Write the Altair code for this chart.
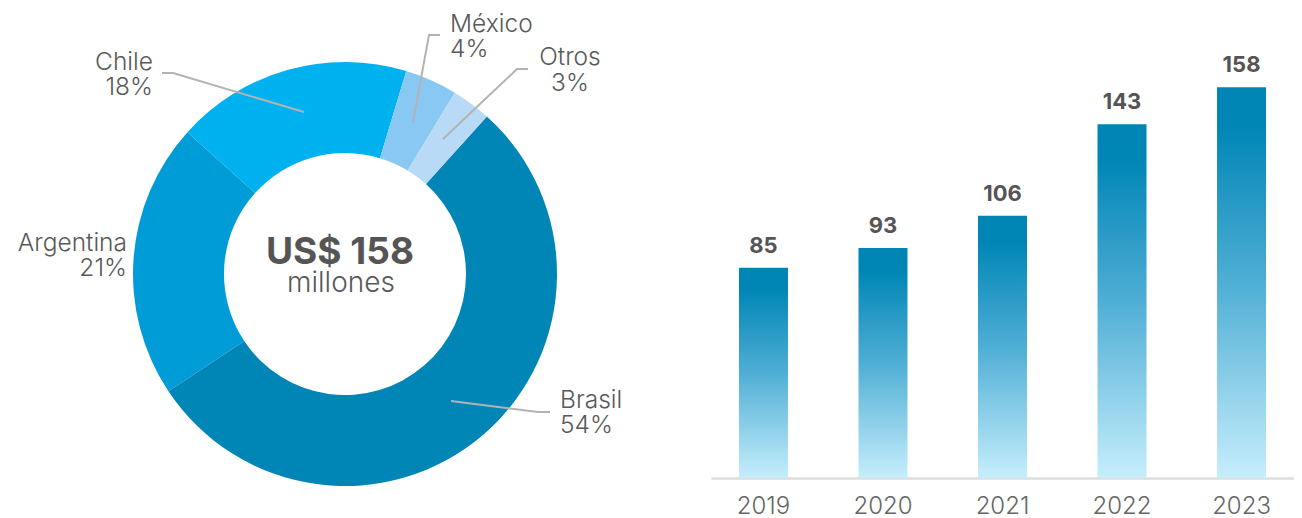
import math
import altair as alt
import pandas as pd

# ---------------- data ----------------
countries = ["Brasil", "Argentina", "Chile", "México", "Otros"]
shares = [54, 21, 18, 4, 3]
country_colors = ["#0085B7", "#009CD7", "#00B1F0", "#89C8F3", "#B9DAF6"]

years = ["2019", "2020", "2021", "2022", "2023"]
totals = [85, 93, 106, 143, 158]

center_title = "US$ 158"
center_sub = "millones"

FONT = "Inter"
TEXT = "#595959"

# ---------------- layout helpers (panel pixel space) ----------------
PW, PH = 690, 500
START = math.radians(42)

donut_df = pd.DataFrame({
    "country": countries,
    "share": shares,
    "order": list(range(len(countries))),
})

# label anchors: (name, pct, x, y_name, y_pct, align)
label_rows = [
    ("Chile", "18%", 145, 62, 87, "right"),
    ("Argentina", "21%", 119, 243, 268, "right"),
    ("México", "4%", 442, 24, 49, "left"),
    ("Otros", "3%", 562, 57, 83, "center"),
    ("Brasil", "54%", 552, 400, 425, "left"),
]
lab = []
for n, p, x, y1, y2, a in label_rows:
    lab.append({"t": n, "x": x, "y": y1, "a": a})
    lab.append({"t": p, "x": x, "y": y2, "a": a})
lab_df = pd.DataFrame(lab)

lines = {
    "Chile": [(154, 65), (165, 65), (296, 104)],
    "México": [(432, 27), (421, 27), (405, 114)],
    "Otros": [(520, 61), (509, 61), (435, 131)],
    "Brasil": [(443, 393), (530, 404), (542, 404)],
}
line_df = pd.DataFrame([
    {"id": k, "i": i, "x": x, "y": y}
    for k, pts in lines.items() for i, (x, y) in enumerate(pts)
])

def xs():
    return alt.Scale(domain=[0, PW], range=[0, PW], nice=False, zero=False)

def ys():
    return alt.Scale(domain=[0, PH], range=[0, PH], nice=False, zero=False)

arcs = alt.Chart(donut_df).mark_arc(
    outerRadius=212, innerRadius=121
).encode(
    theta=alt.Theta("share:Q", stack=True,
                    scale=alt.Scale(range=[START, START + 2 * math.pi])),
    order=alt.Order("order:Q"),
    color=alt.Color("country:N", scale=alt.Scale(domain=countries, range=country_colors), legend=None),
    x=alt.value(337),
    y=alt.value(266),
)

leaders = alt.Chart(line_df).mark_line(color="#B3B3B3", strokeWidth=2).encode(
    x=alt.X("x:Q", scale=xs(), axis=None),
    y=alt.Y("y:Q", scale=ys(), axis=None),
    detail="id:N",
    order="i:Q",
)

def label_layer(al):
    return alt.Chart(lab_df).transform_filter(alt.datum.a == al).mark_text(
        align=al, baseline="alphabetic", font=FONT, fontSize=24.5, fontWeight=300, color=TEXT
    ).encode(
        x=alt.X("x:Q", scale=xs(), axis=None),
        y=alt.Y("y:Q", scale=ys(), axis=None),
        text="t:N",
    )

center_df = pd.DataFrame({"t": [center_title, center_sub], "x": [332, 333], "y": [256, 284], "k": ["a", "b"]})
c1 = alt.Chart(center_df).transform_filter(alt.datum.k == "a").mark_text(
    align="center", baseline="alphabetic", font=FONT, fontSize=37, fontWeight="bold", color="#555555"
).encode(x=alt.X("x:Q", scale=xs(), axis=None), y=alt.Y("y:Q", scale=ys(), axis=None), text="t:N")
c2 = alt.Chart(center_df).transform_filter(alt.datum.k == "b").mark_text(
    align="center", baseline="alphabetic", font=FONT, fontSize=28, fontWeight=300, color=TEXT
).encode(x=alt.X("x:Q", scale=xs(), axis=None), y=alt.Y("y:Q", scale=ys(), axis=None), text="t:N")

left = alt.layer(
    arcs, leaders, label_layer("left"), label_layer("right"), label_layer("center"), c1, c2
).properties(width=PW, height=PH).resolve_scale(theta="independent")

# ---------------- bars ----------------
bar_df = pd.DataFrame({"year": years, "value": totals})
grad = alt.Gradient(
    gradient="linear",
    stops=[
        alt.GradientStop(color="#0085B5", offset=0),
        alt.GradientStop(color="#0086B6", offset=0.1),
        alt.GradientStop(color="#4FAED5", offset=0.5),
        alt.GradientStop(color="#C6EEFC", offset=1),
    ],
    x1=0, x2=0, y1=0, y2=1,
)
xb = alt.X("year:N", sort=years, title=None,
           scale=alt.Scale(paddingInner=0.59, paddingOuter=0.234),
           axis=alt.Axis(labelAngle=0, labelFont=FONT, labelFontSize=24, labelFontWeight=300,
                         labelColor="#666666",
                         labelPadding=16, ticks=False, domainColor="#DDDDDD", domainWidth=2.5,
                         grid=False))
yb = alt.Y("value:Q", scale=alt.Scale(domain=[0, 190], nice=False), axis=None)

bars = alt.Chart(bar_df).mark_bar(color=grad).encode(x=xb, y=yb)
vals = alt.Chart(bar_df).mark_text(
    baseline="alphabetic", dy=-15, font=FONT, fontSize=22, fontWeight="bold", color="#555555"
).encode(x=xb, y=yb, text="value:Q")

right = alt.layer(bars, vals).properties(width=583, height=470)

chart = alt.hconcat(left, right, spacing=13).properties(padding=0).configure_view(stroke=None)

chart.save("out.html", embed_options={"renderer": "svg", "actions": False})
